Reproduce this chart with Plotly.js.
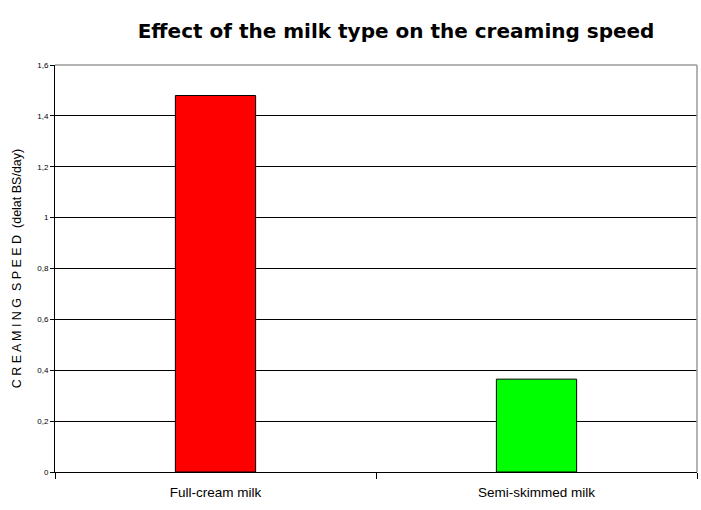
<!DOCTYPE html>
<html>
<head>
<meta charset="utf-8">
<script src="https://cdn.plot.ly/plotly-3.0.1.min.js"></script>
<style>html,body{margin:0;padding:0;background:#fff;}#chart{width:701px;height:510px;}</style>
</head>
<body>
<div id="chart"></div>
<script>
const categories = ["Full-cream milk", "Semi-skimmed milk"];
const creamingSpeed = [1.48, 0.365];
const barColors = ["#FF0000", "#00FF00"];
const yTickVals = [0, 0.2, 0.4, 0.6, 0.8, 1, 1.2, 1.4, 1.6];
const yTickText = ["0", "0,2", "0,4", "0,6", "0,8", "1", "1,2", "1,4", "1,6"];

const trace = {
  type: "bar",
  x: categories,
  y: creamingSpeed,
  width: 0.25,
  marker: { color: barColors, line: { color: "#000000", width: 1 } },
  hoverinfo: "x+y"
};

const layout = {
  width: 701,
  height: 510,
  margin: { l: 55, r: 4, t: 65, b: 38 },
  paper_bgcolor: "#ffffff",
  plot_bgcolor: "#ffffff",
  showlegend: false,
  title: {
    text: "<b>Effect of the milk type on the creaming speed</b>",
    font: { family: "DejaVu Sans, Liberation Sans, sans-serif", size: 20, color: "#000" },
    x: 0.565, xanchor: "center", y: 0.94, yanchor: "middle"
  },
  xaxis: {
    type: "category",
    range: [-0.5, 1.5],
    showline: true, linecolor: "#000", linewidth: 1,
    ticks: "outside", ticklen: 6, tickcolor: "#000", tickson: "boundaries",
    ticklabelstandoff: 8,
    showgrid: false,
    tickfont: { family: "Liberation Sans, Arial, sans-serif", size: 13.5, color: "#000" },
    fixedrange: true
  },
  yaxis: {
    range: [0, 1.6],
    tickvals: yTickVals,
    ticktext: yTickText,
    showline: true, linecolor: "#000", linewidth: 1,
    ticks: "outside", ticklen: 4, tickcolor: "#000",
    showgrid: true, gridcolor: "#000", gridwidth: 1,
    zeroline: false,
    tickfont: { family: "Liberation Sans, Arial, sans-serif", size: 8, color: "#000" },
    title: {
      text: "C R E A M I N G  S P E E D  (delat BS/day)",
      font: { family: "Liberation Sans, Arial, sans-serif", size: 12.5, color: "#000" },
      standoff: 12
    },
    fixedrange: true
  },
  shapes: [
    { type: "line", xref: "paper", yref: "paper", x0: 0, x1: 1, y0: 1, y1: 1, line: { color: "#9a9a9a", width: 1.5 }, layer: "above" },
    { type: "line", xref: "paper", yref: "paper", x0: 1, x1: 1, y0: 0, y1: 1, line: { color: "#9a9a9a", width: 1.5 }, layer: "above" }
  ]
};

Plotly.newPlot("chart", [trace], layout, { displayModeBar: false, staticPlot: true });
</script>
</body>
</html>
